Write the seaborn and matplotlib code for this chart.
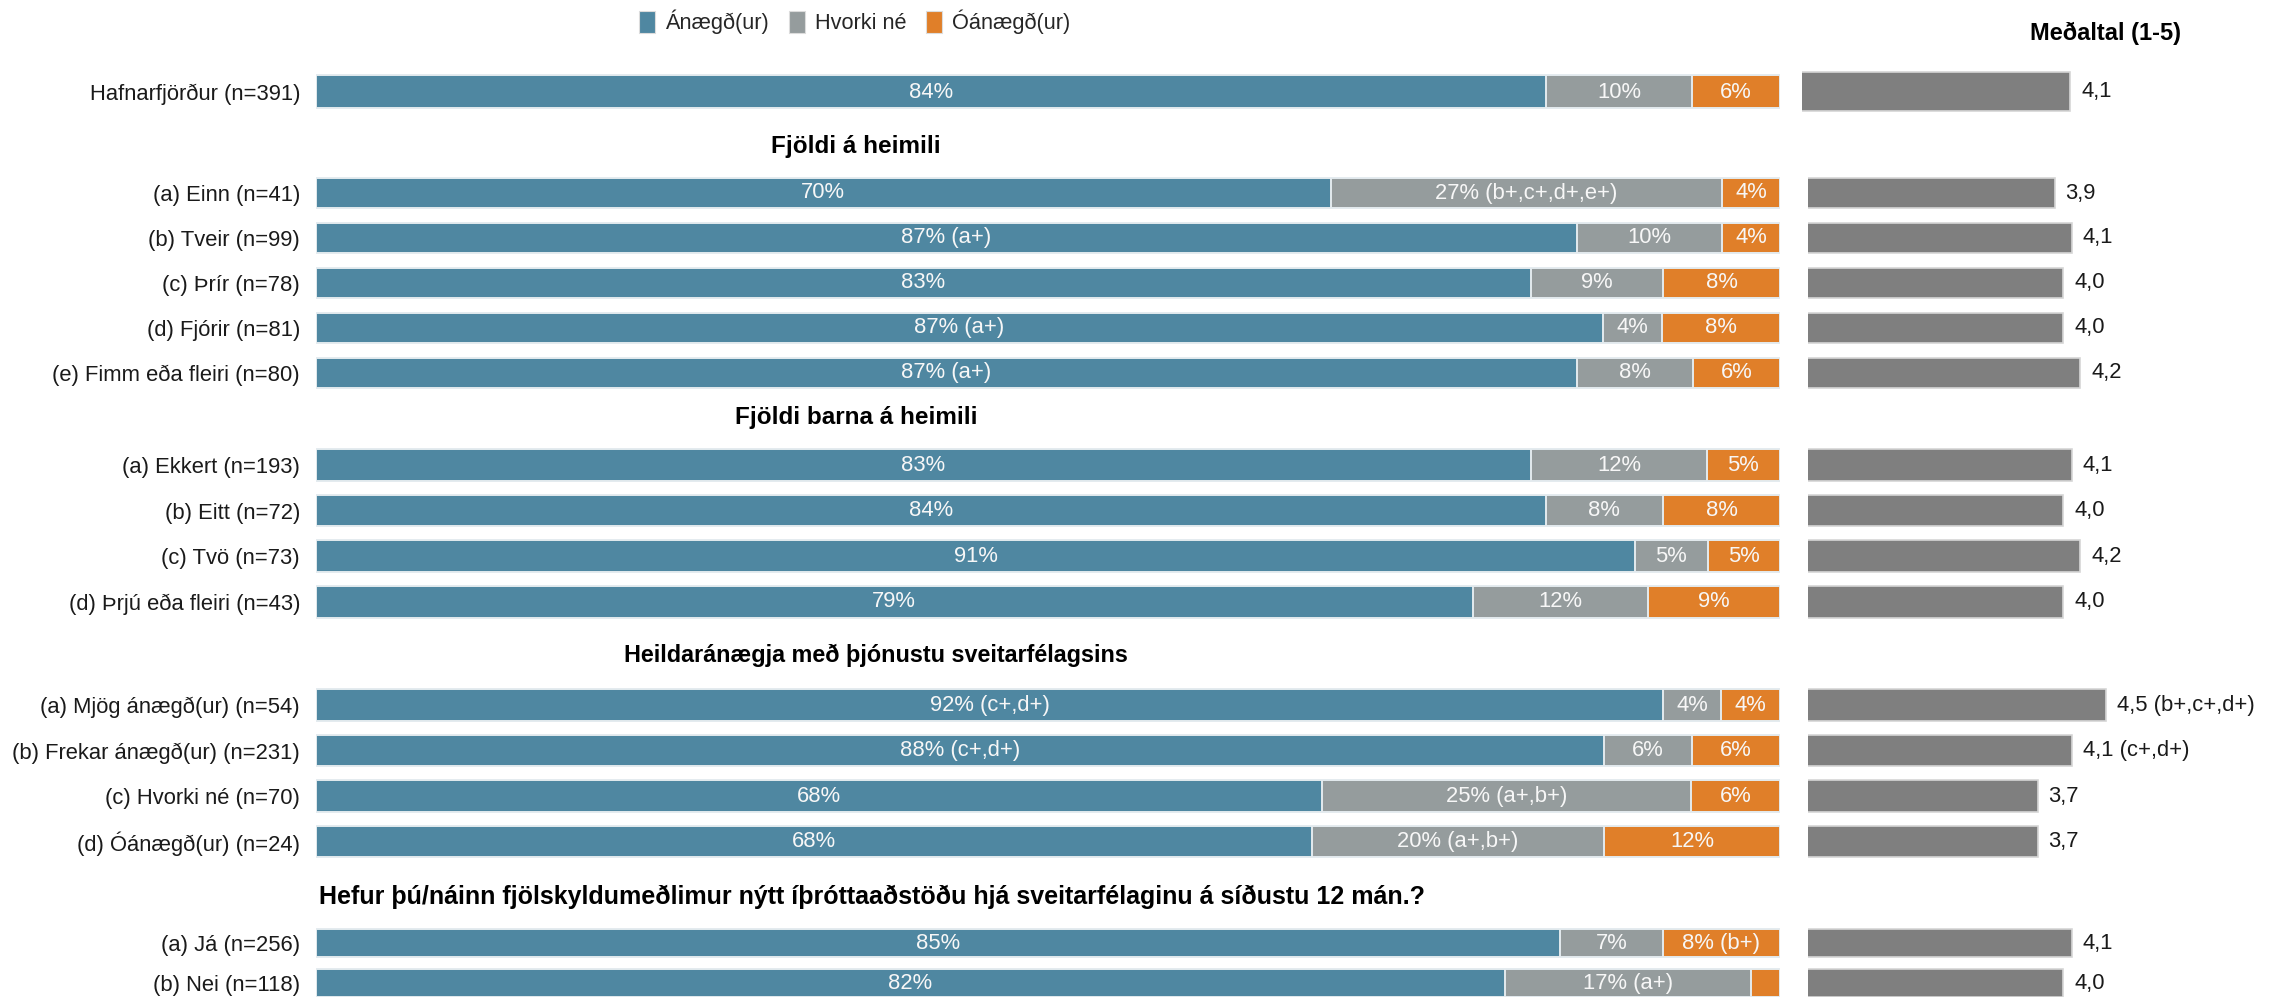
import matplotlib
matplotlib.use("Agg")
import matplotlib.pyplot as plt
from matplotlib.patches import Patch
import numpy as np
import pandas as pd
import seaborn as sns

# ---------------- data ----------------
legend_labels = ["Ánægð(ur)", "Hvorki né", "Óánægð(ur)"]
mean_title = "Meðaltal (1-5)"

group_titles = [
    "",
    "Fjöldi á heimili",
    "Fjöldi barna á heimili",
    "Heildaránægja með þjónustu sveitarfélagsins",
    "Hefur þú/náinn fjölskyldumeðlimur nýtt íþróttaaðstöðu hjá sveitarfélaginu á síðustu 12 mán.?",
]

categories = [
    "Hafnarfjörður (n=391)",
    "(a) Einn (n=41)", "(b) Tveir (n=99)", "(c) Þrír (n=78)", "(d) Fjórir (n=81)",
    "(e) Fimm eða fleiri (n=80)",
    "(a) Ekkert (n=193)", "(b) Eitt (n=72)", "(c) Tvö (n=73)", "(d) Þrjú eða fleiri (n=43)",
    "(a) Mjög ánægð(ur) (n=54)", "(b) Frekar ánægð(ur) (n=231)", "(c) Hvorki né (n=70)",
    "(d) Óánægð(ur) (n=24)",
    "(a) Já (n=256)", "(b) Nei (n=118)",
]
group_of_row = [0, 1, 1, 1, 1, 1, 2, 2, 2, 2, 3, 3, 3, 3, 4, 4]

satisfied = [84, 70, 87, 83, 87, 87, 83, 84, 91, 79, 92, 88, 68, 68, 85, 82]
neutral = [10, 27, 10, 9, 4, 8, 12, 8, 5, 12, 4, 6, 25, 20, 7, 17]
dissatisfied = [6, 4, 4, 8, 8, 6, 5, 8, 5, 9, 4, 6, 6, 12, 8, 2]

satisfied_sig = ["", "", "(a+)", "", "(a+)", "(a+)", "", "", "", "",
                 "(c+,d+)", "(c+,d+)", "", "", "", ""]
neutral_sig = ["", "(b+,c+,d+,e+)", "", "", "", "", "", "", "", "",
               "", "", "(a+,b+)", "(a+,b+)", "", "(a+)"]
dissatisfied_sig = ["", "", "", "", "", "", "", "", "", "",
                    "", "", "", "", "(b+)", ""]

means = [4.1, 3.9, 4.1, 4.0, 4.0, 4.2, 4.1, 4.0, 4.2, 4.0, 4.5, 4.1, 3.7, 3.7, 4.1, 4.0]
mean_sig = ["", "", "", "", "", "", "", "", "", "",
            "(b+,c+,d+)", "(c+,d+)", "", "", "", ""]

# ---------------- style ----------------
BLUE = "#4f87a1"
GRAY = "#959c9d"
ORANGE = "#e07f29"
MEAN_GRAY = "#7f7f7f"
SEG_EDGE = "#e4ebef"
TEXT = "#1a1a1a"

sns.set_style("white")
plt.rcParams["font.family"] = ["Liberation Sans", "DejaVu Sans"]

W, H = 2282, 997
fig = plt.figure(figsize=(W / 100, H / 100), dpi=100)

# panel layout in pixels
panel_first_row = [92, 193, 465, 705, 943]
panel_step = [45, 44.9, 45.6, 45.5, 40]
panel_bar_px = [33, 30, 31.7, 31.7, 28]
mean_bar_px = [39, 30, 31.7, 31.7, 28]
mean_x0 = [1802, 1808, 1808, 1808, 1808]
header_xy = [None, (856, 147), (856, 417), (876, 655), (872, 897)]
header_size = [None, 17.5, 17.5, 16.8, 18]
BAR_X0, BAR_X1, MEAN_X1 = 316, 1780, 2148


def px_rect(x0, x1, ytop, ybot):
    return [x0 / W, 1 - ybot / H, (x1 - x0) / W, (ybot - ytop) / H]


df_all = pd.DataFrame({
    "label": categories, "group": group_of_row,
    "sat": satisfied, "neu": neutral, "dis": dissatisfied,
    "sat_sig": satisfied_sig, "neu_sig": neutral_sig, "dis_sig": dissatisfied_sig,
    "mean": means, "mean_sig": mean_sig,
})
total = df_all[["sat", "neu", "dis"]].sum(axis=1)
df_all["w_sat"] = df_all["sat"] / total * 100
df_all["w_neu"] = df_all["neu"] / total * 100
df_all["w_dis"] = df_all["dis"] / total * 100
df_all["c1"] = df_all["w_sat"]
df_all["c2"] = df_all["w_sat"] + df_all["w_neu"]
df_all["c3"] = df_all["c2"] + df_all["w_dis"]

for g in range(5):
    df = df_all[df_all["group"] == g].reset_index(drop=True)
    n = len(df)
    step = panel_step[g]
    ytop = panel_first_row[g] - step / 2
    ybot = ytop + n * step

    # stacked percentage bars
    ax = fig.add_axes(px_rect(BAR_X0, BAR_X1, ytop, ybot))
    for col, color in [("c3", ORANGE), ("c2", GRAY), ("c1", BLUE)]:
        sns.barplot(data=df, x=col, y="label", color=color, orient="h",
                    width=panel_bar_px[g] / step, edgecolor=SEG_EDGE,
                    linewidth=1.4, saturation=1, errorbar=None, ax=ax)
    ax.set_xlim(0, 100)
    ax.set_ylim(n - 0.5, -0.5)
    ax.set_xlabel("")
    ax.set_ylabel("")
    ax.set_xticks([])
    ax.tick_params(axis="y", length=0, pad=11.5, labelsize=15.8, labelcolor=TEXT)
    sns.despine(ax=ax, left=True, bottom=True)

    for i, r in df.iterrows():
        segs = [(r["w_sat"], 0, r["sat"], r["sat_sig"]),
                (r["w_neu"], r["c1"], r["neu"], r["neu_sig"]),
                (r["w_dis"], r["c2"], r["dis"], r["dis_sig"])]
        for width, left, val, sig in segs:
            if val < 3:
                continue
            txt = f"{val}%" + (f" {sig}" if sig else "")
            ax.text(left + width / 2, i, txt, ha="center", va="center",
                    color="#f7f7f7", fontsize=15.8)

    # mean score bars (scale 1-5)
    ax2 = fig.add_axes(px_rect(mean_x0[g], MEAN_X1, ytop, ybot))
    sns.barplot(data=df, x="mean", y="label", color=MEAN_GRAY, orient="h",
                width=mean_bar_px[g] / step, edgecolor="#d6d6d6", linewidth=1.2,
                saturation=1, errorbar=None, ax=ax2)
    ax2.set_xlim(1, 5)
    ax2.set_ylim(n - 0.5, -0.5)
    ax2.set_xlabel("")
    ax2.set_ylabel("")
    ax2.set_xticks([])
    ax2.tick_params(axis="y", left=False, labelleft=False)
    sns.despine(ax=ax2, left=True, bottom=True)
    for i, r in df.iterrows():
        txt = f"{r['mean']:.1f}".replace(".", ",") + (f" {r['mean_sig']}" if r["mean_sig"] else "")
        ax2.annotate(txt, xy=(r["mean"], i), xytext=(8, 0), textcoords="offset points",
                     ha="left", va="center", fontsize=15.8, color=TEXT,
                     annotation_clip=False)

    if header_xy[g] is not None:
        hx, hy = header_xy[g]
        fig.text(hx / W, 1 - hy / H, group_titles[g], ha="center", va="center",
                 fontsize=header_size[g], fontweight="bold", color="black")

fig.text(2105 / W, 1 - 33 / H, mean_title, ha="center", va="center",
         fontsize=17, fontweight="bold", color="black")

handles = [Patch(facecolor=c, edgecolor="#dcdcdc", linewidth=0.8) for c in (BLUE, GRAY, ORANGE)]
fig.legend(handles, legend_labels, loc="center left",
           bbox_to_anchor=(639 / W, 1 - 22 / H), ncol=3, frameon=False,
           fontsize=15.7, handlelength=0.75, handleheight=1.2, handletextpad=0.45,
           columnspacing=0.9, borderpad=0, borderaxespad=0)

fig.savefig("out.png", dpi=100, facecolor="white")
